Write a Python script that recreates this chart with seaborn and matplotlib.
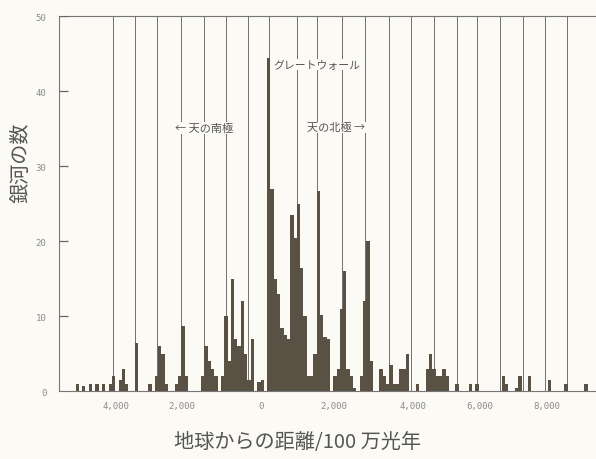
import numpy as np
import pandas as pd
import matplotlib
matplotlib.use('Agg')
import matplotlib.pyplot as plt
import seaborn as sns

# counts per bin (bin index -58 .. 96)
first_bin = -58
bin_width = 92      # million light years
bin_origin = 157
counts = [
    1, 0, 0.7, 0, 1, 0, 1, 0, 1, 0,
    1, 2, 0, 1.5, 3, 1, 0, 0, 6.5, 0,
    0, 0, 1, 0, 2, 6, 5, 1, 0, 0,
    1, 2, 8.7, 2, 0, 0, 0, 0, 2, 6,
    4, 3, 2, 0, 2, 10, 4, 15, 7, 6,
    12, 5, 1.5, 7, 0, 1.3, 1.5, 0, 44.5, 27,
    15, 13, 8.4, 7.5, 7, 23.5, 20.5, 25, 16.4, 10,
    2, 2, 5, 26.7, 10.2, 7.3, 7, 0, 2, 3,
    11, 16, 3, 2, 0.5, 0, 2, 12, 20, 4,
    0, 0, 3, 2, 1, 3.5, 1, 1, 3, 3,
    5, 0, 0, 1, 0, 0, 3, 5, 3, 2,
    2, 3, 2, 0, 0, 1, 0, 0, 0, 1,
    0, 1, 0, 0, 0, 0, 0, 0, 0, 2,
    1, 0, 0, 0.5, 2, 0, 0, 2, 0, 0,
    0, 0, 0, 1.5, 0, 0, 0, 0, 1, 0,
    0, 0, 0, 0, 1,
]

# periodic vertical guide lines
grid_lines = [-4130, -3510, -2905, -2255, -1605, -1000, -370, 215, 980, 1555,
              2240, 2895, 3550, 4175, 4800, 5435, 5990, 6640, 7275, 7895, 8500]

tick_pos = [-4060, -2220, 0, 2020, 4220, 6080, 7950]
tick_labels = ['4,000', '2,000', '0', '2,000', '4,000', '6,000', '8,000']
y_ticks = [0, 10, 20, 30, 40, 50]

bg = '#fcfaf5'
bar_color = '#585144'
line_color = '#707070'
text_color = '#555555'

sns.set_theme(style='white')
plt.rcParams['font.family'] = ['Noto Sans CJK JP', 'DejaVu Sans']

lo = bin_origin + bin_width * first_bin
hi = lo + bin_width * len(counts)
centers = lo + bin_width * (np.arange(len(counts)) + 0.5)
df = pd.DataFrame({'dist': centers, 'n': counts})

fig = plt.figure(figsize=(5.96, 4.60), dpi=100, facecolor=bg)
ax = fig.add_axes([0.099, 0.147, 0.901, 0.815], facecolor=bg)

for x in grid_lines:
    ax.axvline(x, color=line_color, lw=0.7, zorder=1)

sns.histplot(data=df, x='dist', weights='n', binwidth=bin_width, binrange=(lo, hi),
             element='step', fill=True, color=bar_color, alpha=1, linewidth=0,
             ax=ax, zorder=2)

# short inward tick marks on the count axis
ax.hlines(y_ticks[1:], 0, 0.016, transform=ax.get_yaxis_transform(),
          color='#666666', lw=0.9, zorder=3)

ax.set_xlim(-5640, 9315)
ax.set_ylim(0, 50)
ax.set_xticks(tick_pos, tick_labels)
ax.set_yticks(y_ticks)
for lbl in ax.get_xticklabels() + ax.get_yticklabels():
    lbl.set_family('DejaVu Sans Mono')
ax.tick_params(axis='x', length=0, pad=7, labelsize=6.5, labelcolor='#8a8a8a')
ax.tick_params(axis='y', length=0, pad=9, labelsize=6.5, labelcolor='#8a8a8a')
ax.set_xlabel('')
ax.set_ylabel('')

ax.spines['right'].set_visible(False)
for s in ['left', 'top', 'bottom']:
    ax.spines[s].set_color('#777777')
    ax.spines[s].set_linewidth(0.8)

box = dict(facecolor=bg, edgecolor='none', pad=0.6)
ax.text(318, 43.6, 'グレートウォール', fontsize=7.8, color=text_color,
        ha='left', va='center', bbox=box, zorder=3)
ax.text(-2412, 35.1, '← 天の南極', fontsize=8, color=text_color,
        ha='left', va='center', bbox=box, zorder=3)
ax.text(1256, 35.2, '天の北極 →', fontsize=8, color=text_color,
        ha='left', va='center', bbox=box, zorder=3)

fig.text(21 / 596, 1 - 163 / 460, '銀河の数', rotation=90, fontsize=14.5,
         color=text_color, ha='center', va='center')
fig.text(298 / 596, 1 - 443 / 460, '地球からの距離/100 万光年', fontsize=14.5,
         color=text_color, ha='center', va='center')

fig.savefig('out.png', dpi=100, facecolor=bg)
